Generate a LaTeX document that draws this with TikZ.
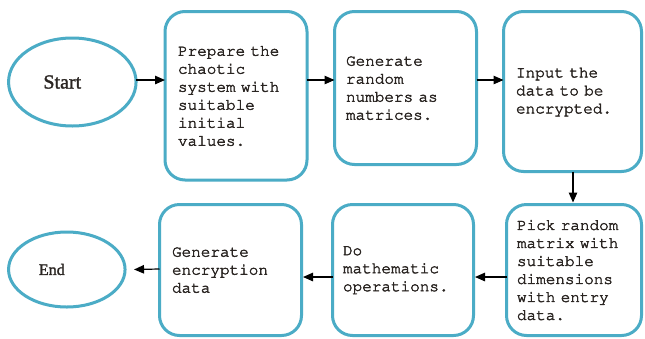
\documentclass[tikz,border=0pt]{standalone}
\usepackage[T1,TU]{fontenc}
\usepackage{fontspec}
\setmainfont{Liberation Serif}
\newcommand{\courfont}{\fontencoding{T1}\fontfamily{pcr}\selectfont}
\newcommand{\heavytext}{\special{pdf:literal direct 2 Tr 0.4 w}}
\newcommand{\semiheavytext}{\special{pdf:literal direct 2 Tr 0.3 w}}
\usetikzlibrary{shapes.geometric,arrows.meta}
\definecolor{frame}{HTML}{4BACC6}
\definecolor{ink}{HTML}{2A2522}
\begin{document}
\begin{tikzpicture}[x=1pt,y=-1pt,
  stepbox/.style={draw=frame, line width=3pt, rounded corners=20pt, align=left,
    inner xsep=0pt, inner ysep=0pt, outer sep=0pt,
    font=\courfont\fontsize{16}{18}\selectfont\heavytext, text=ink},
  term/.style={draw=frame, line width=3pt, ellipse, inner sep=0pt, outer sep=0pt, text=ink},
  arr/.style={-{Triangle[length=10pt,width=8.5pt]}, line width=1.2pt, black}]
\clip (0,0) rectangle (645,338);
\fill[white] (0,0) rectangle (645,338);

\node[term, minimum width=127.5pt, minimum height=88pt, font=\fontsize{20}{24}\selectfont\semiheavytext]
  (start) at (72.3,82) {\kern-20pt Start};
\node[term, minimum width=116.5pt, minimum height=75pt, font=\fontsize{16}{19}\selectfont\semiheavytext]
  (end) at (66.8,269.5) {\kern-30pt End};

\node[stepbox, minimum width=142pt, minimum height=168.5pt, text width=116pt] (box1) at (236,95.75)
  {Prepare the\\chaotic\\system with\\suitable\\initial\\values.};
\node[stepbox, minimum width=142pt, minimum height=153pt, text width=119pt] (box2) at (405.5,88)
  {Generate\\random\\numbers as\\matrices.};
\node[stepbox, minimum width=138pt, minimum height=160pt, text width=113pt] (box3) at (572.5,91.5)
  {Input the\\data to be\\encrypted.};
\node[stepbox, minimum width=135pt, minimum height=131pt, text width=114pt] (box4) at (574,270)
  {Pick random\\matrix with\\suitable\\dimensions\\with entry\\data.};
\node[stepbox, minimum width=141pt, minimum height=131pt, text width=120pt] (box5) at (403,270)
  {Do\\mathematic\\operations.};
\node[stepbox, minimum width=142pt, minimum height=131pt, text width=117pt] (box6) at (230.5,270)
  {Generate\\encryption\\data};

\draw[arr] (start.east |- 0,80) -- (box1.west |- 0,80);
\draw[arr] (box1.east |- 0,80) -- (box2.west |- 0,80);
\draw[arr] (box2.east |- 0,80) -- (box3.west |- 0,80);
\draw[arr, shorten >=2pt] (box3.south -| 573,0) -- (box4.north -| 573,0);
\draw[arr, shorten >=1.5pt] (box4.west |- 0,277) -- (box5.east |- 0,277);
\draw[arr, shorten >=1.5pt] (box5.west |- 0,277) -- (box6.east |- 0,277);
\draw[arr] (box6.west |- 0,269) -- ([xshift=9pt]end.east);
\end{tikzpicture}
\end{document}
